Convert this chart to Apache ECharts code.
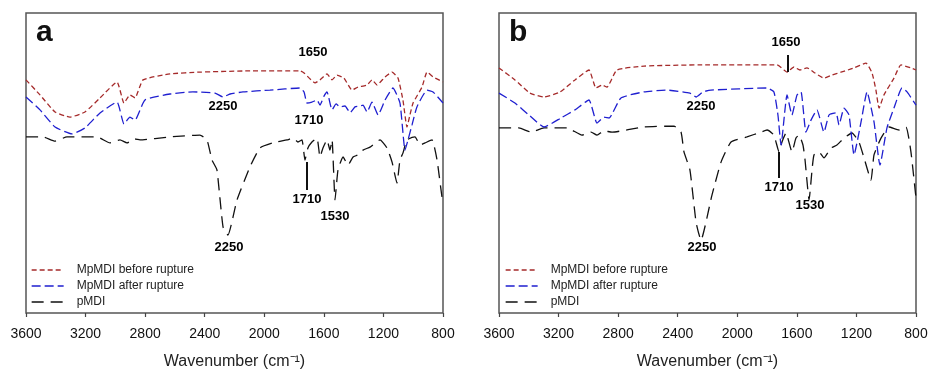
<!DOCTYPE html>
<html>
<head>
<meta charset="utf-8">
<script src="https://cdn.jsdelivr.net/npm/echarts@6/dist/echarts.min.js"></script>
<style>html,body{margin:0;padding:0;background:#fff;}#c{width:928px;height:369px;}</style>
</head>
<body>
<div id="c"></div>
<script>
// ---- Data (wavenumber in cm-1, relative transmittance, arbitrary units) ----
const seriesNames = ['MpMDI before rupture', 'MpMDI after rupture', 'pMDI'];
const xTicks = [3600, 3200, 2800, 2400, 2000, 1600, 1200, 800];

// Panel a
const wnA_before = [3600,3506,3405,3305,3204,3103,2989,2942,2902,2868,2814,2633,2432,2096,1760,1733,1659,1626,1579,1545,1512,1465,1411,1371,1310,1277,1243,1189,1142,1102,1069,1042,1022,1001,941,907,867,800];
const tA_before = [77.7,72.7,67.0,65.3,67.0,71.7,77.0,70.0,72.7,71.7,77.7,79.7,80.3,80.7,80.7,80.0,76.7,77.7,79.7,77.7,79.3,78.3,74.3,75.3,76.0,77.7,76.0,78.7,80.3,78.3,71.0,62.0,66.0,70.0,75.3,80.3,78.7,77.0];

const wnA_after = [3600,3506,3405,3291,3204,3103,2989,2942,2902,2868,2801,2633,2479,2331,2277,2230,2143,1962,1760,1733,1713,1680,1646,1626,1599,1579,1545,1518,1492,1458,1424,1391,1357,1337,1310,1277,1236,1189,1136,1089,1055,1035,1008,975,907,867,800];
const tA_after = [72.0,67.7,62.0,59.7,61.7,66.7,70.3,63.0,65.3,64.3,71.0,73.0,73.7,73.3,72.0,73.0,73.7,74.3,75.0,73.7,70.0,70.3,71.0,69.3,72.3,73.7,67.7,69.7,68.7,69.0,66.7,68.7,69.0,69.3,67.0,70.3,66.0,71.0,75.0,70.0,54.3,57.7,62.7,68.7,74.3,73.7,70.0];

const wnA_pmdi = [3600,3486,3405,3325,3123,3036,2969,2922,2868,2835,2633,2432,2385,2351,2318,2277,2244,2183,2096,2029,1942,1847,1807,1774,1747,1727,1707,1680,1646,1626,1606,1579,1559,1545,1525,1505,1471,1438,1404,1371,1337,1290,1223,1176,1142,1109,1089,1069,1042,988,954,921,874,840,807,800];
const tA_pmdi = [58.7,58.7,57.3,58.7,58.7,56.7,57.7,56.7,58.0,57.7,58.7,59.3,57.7,51.0,47.7,28.7,26.0,37.7,48.7,55.0,56.7,57.7,58.3,57.0,57.7,51.0,55.0,57.0,58.3,52.0,55.0,57.7,54.3,57.7,37.7,47.7,52.0,49.3,52.0,52.7,54.3,55.3,57.7,55.0,50.3,43.3,51.0,53.3,57.7,58.7,56.0,56.7,57.7,51.0,38.7,37.7];

// Panel b
const wnB_before = [3600,3493,3392,3298,3190,3090,2996,2949,2908,2875,2808,2626,2250,1733,1686,1666,1619,1579,1532,1478,1418,1364,1304,1257,1216,1136,1095,1069,1048,1015,948,901,834,800];
const tB_before = [81.7,77.7,73.3,72.0,73.7,77.7,81.0,75.0,76.0,75.3,81.0,82.3,82.7,82.7,81.0,80.3,82.0,81.0,81.7,80.0,78.3,79.3,80.3,81.0,81.7,83.3,80.0,74.3,68.3,72.7,78.3,82.7,81.7,81.0];

const wnB_after = [3600,3493,3392,3298,3184,3090,2996,2942,2895,2861,2781,2626,2472,2318,2277,2230,2177,1800,1754,1727,1706,1666,1633,1599,1572,1539,1505,1465,1418,1384,1337,1317,1283,1250,1216,1169,1129,1082,1042,995,948,894,860,800];
const tB_after = [73.3,70.0,65.7,62.0,65.0,67.7,71.0,63.3,65.3,65.0,71.7,73.7,74.3,73.3,72.0,73.7,74.3,75.0,73.7,66.0,56.0,72.7,66.0,72.7,73.7,60.3,64.3,67.7,60.3,66.0,66.7,62.7,68.3,66.0,52.7,63.7,73.7,63.7,49.3,61.7,68.3,75.0,73.7,69.3];

const wnB_pmdi = [3600,3466,3385,3298,3143,3043,2982,2942,2895,2841,2626,2425,2378,2358,2318,2277,2244,2170,2109,2042,1935,1841,1800,1754,1720,1700,1673,1633,1606,1586,1559,1545,1518,1498,1485,1451,1418,1371,1331,1284,1230,1183,1149,1102,1082,1035,981,914,867,834,800];
const tB_pmdi = [61.7,61.7,60.3,61.7,61.7,59.3,60.3,59.3,60.7,60.3,62.0,62.3,60.3,53.7,47.7,30.3,24.3,39.3,50.3,57.0,58.7,60.3,61.0,59.3,53.7,57.0,60.0,53.7,58.3,59.3,56.0,51.0,37.7,47.7,52.7,53.7,51.7,55.0,56.0,58.3,60.0,57.0,51.7,44.3,52.7,58.3,62.0,61.0,62.0,53.7,38.3];

// Peak annotations
const annA_text = ['1650','2250','1710','1710','1530','2250'];
const annA_wn   = [1673, 2277, 1700, 1713, 1525, 2237];
const annA_t    = [86.7, 68.7, 64.3, 38.0, 32.3, 21.7];
const annA_lines = [[1713, 50.3, 41.0]];

const annB_text = ['1650','2250','1710','1530','2250'];
const annB_wn   = [1673, 2244, 1720, 1512, 2237];
const annB_t    = [90.3, 68.7, 42.0, 36.0, 21.7];
const annB_lines = [[1660, 86.0, 80.3], [1720, 53.7, 45.0]];

// ---- Chart ----
const FONT = 'Liberation Sans, Arial, sans-serif';
const zip = (xs, ys) => xs.map((x, i) => [x, ys[i]]);
const colors = ['#a52a2a', '#1f1fd0', '#111111'];
const dashes = [[5, 3], [9, 4], [12, 7]];

const grids = [
  { left: 26, top: 13, width: 417, height: 300 },
  { left: 499, top: 13, width: 417, height: 300 }
].map(g => Object.assign(g, { show: true, borderColor: '#555', borderWidth: 1.5, backgroundColor: 'transparent', containLabel: false, outerBoundsMode: 'none' }));

function xAxis(i) {
  return {
    gridIndex: i, type: 'value', inverse: true, min: 800, max: 3600, interval: 400,
    axisLine: { show: false },
    axisTick: { show: true, inside: false, length: 4, lineStyle: { color: '#444', width: 1.2 } },
    axisLabel: { color: '#111', fontSize: 14, fontFamily: FONT, margin: 14,
      formatter: v => (xTicks.indexOf(v) >= 0 ? String(v) : '') },
    splitLine: { show: false },
    name: 'Wavenumber (cm\u207B\u00B9)', nameLocation: 'middle', nameGap: 41,
    nameTextStyle: { fontSize: 16, color: '#222', fontFamily: FONT }
  };
}
function yAxis(i) {
  return { gridIndex: i, type: 'value', min: 0, max: 100, show: false };
}

function spectra(i, sets) {
  return sets.map((d, k) => ({
    name: seriesNames[k], type: 'line', xAxisIndex: i, yAxisIndex: i,
    data: zip(d[0], d[1]), symbol: 'none', smooth: 0.15, silent: true,
    lineStyle: { color: colors[k], width: 1.3, type: dashes[k] },
    itemStyle: { color: colors[k] }, z: 3 - k
  }));
}
function annotations(i, texts, wns, ts, lines) {
  return {
    type: 'scatter', xAxisIndex: i, yAxisIndex: i, symbolSize: 0, silent: true,
    data: texts.map((t, k) => ({ name: t, value: [wns[k], ts[k]] })),
    itemStyle: { opacity: 1 },
    label: { show: true, position: 'inside', formatter: p => p.name, opacity: 1,
      fontSize: 13, fontWeight: 'bold', color: '#000', fontFamily: FONT },
    markLine: {
      silent: true, symbol: 'none', label: { show: false },
      lineStyle: { type: 'solid', color: '#111', width: 2, opacity: 1 },
      data: lines.map(l => [{ coord: [l[0], l[1]] }, { coord: [l[0], l[2]] }])
    }, z: 5
  };
}
function legend(left) {
  return {
    data: seriesNames, left: left, top: 264, orient: 'vertical',
    itemWidth: 32, itemHeight: 12, itemGap: 4, selectedMode: false, padding: 0,
    itemStyle: { opacity: 0, borderWidth: 0 },
    lineStyle: { width: 1.3 },
    textStyle: { fontSize: 12, color: '#222', fontFamily: FONT, padding: [0, 0, 0, 8] }
  };
}

const option = {
  animation: false,
  backgroundColor: '#fff',
  title: [
    { text: 'a', left: 36, top: 18, padding: 0, textStyle: { fontSize: 30, fontWeight: 'bold', color: '#111', fontFamily: FONT } },
    { text: 'b', left: 509, top: 18, padding: 0, textStyle: { fontSize: 30, fontWeight: 'bold', color: '#111', fontFamily: FONT } }
  ],
  legend: [legend(31), legend(505)],
  grid: grids,
  xAxis: [xAxis(0), xAxis(1)],
  yAxis: [yAxis(0), yAxis(1)],
  series: [].concat(
    spectra(0, [[wnA_before, tA_before], [wnA_after, tA_after], [wnA_pmdi, tA_pmdi]]),
    spectra(1, [[wnB_before, tB_before], [wnB_after, tB_after], [wnB_pmdi, tB_pmdi]]),
    [annotations(0, annA_text, annA_wn, annA_t, annA_lines),
     annotations(1, annB_text, annB_wn, annB_t, annB_lines)]
  )
};
const chart = echarts.init(document.getElementById('c'), null, { renderer: 'canvas' });
chart.setOption(option);
</script>
</body>
</html>
